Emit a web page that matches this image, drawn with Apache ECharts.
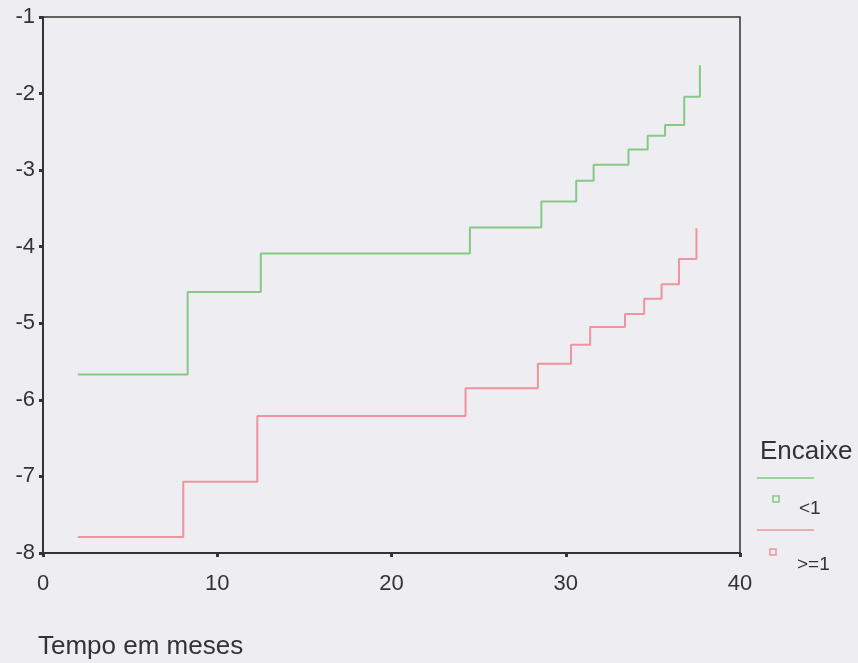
<!DOCTYPE html>
<html>
<head>
<meta charset="utf-8">
<script src="https://cdn.jsdelivr.net/npm/echarts@6/dist/echarts.min.js"></script>
<style>
html,body{margin:0;padding:0;background:#eeeef2;}
#c{width:858px;height:663px;}
</style>
</head>
<body>
<div id="c"></div>
<script>
// Data
var greenTimes  = [2.0, 8.3, 12.5, 24.5, 28.6, 30.6, 31.6, 33.6, 34.7, 35.7, 36.8, 37.7];
var greenValues = [-5.67, -4.59, -4.09, -3.75, -3.41, -3.14, -2.93, -2.73, -2.55, -2.41, -2.04, -1.63];
var redTimes    = [2.0, 8.05, 12.3, 24.25, 28.4, 30.3, 31.4, 33.4, 34.5, 35.5, 36.5, 37.5];
var redValues   = [-7.79, -7.07, -6.21, -5.85, -5.53, -5.28, -5.05, -4.88, -4.68, -4.49, -4.16, -3.76];
var xTicks = [0, 10, 20, 30, 40];
var yTicks = [-8, -7, -6, -5, -4, -3, -2, -1];
var seriesNames = ['<1', '>=1'];
var legendTitle = 'Encaixe';
var xTitle = 'Tempo em meses';

function pairs(xs, ys){ return xs.map(function(x,i){ return [x, ys[i]]; }); }

var GREEN = '#86c886', RED = '#f0939c', INK = '#333333';
var font = 'Liberation Sans, Arial, sans-serif';

var chart = echarts.init(document.getElementById('c'), null, {renderer:'canvas'});
chart.setOption({
  backgroundColor: '#eeeef2',
  animation: false,
  grid: {left: 43, right: 118, top: 17, bottom: 110, show: true, borderColor: INK, borderWidth: 1.5, backgroundColor: 'transparent'},
  xAxis: {
    type: 'value', min: xTicks[0], max: xTicks[xTicks.length-1], interval: 10,
    axisLine: {show: true, onZero: false, lineStyle: {color: INK, width: 2}},
    axisTick: {show: true, inside: false, length: 4, lineStyle: {color: INK, width: 3}},
    axisLabel: {color: INK, fontSize: 22, fontFamily: font, margin: 20},
    splitLine: {show: false}
  },
  yAxis: {
    type: 'value', min: yTicks[0], max: yTicks[yTicks.length-1], interval: 1,
    axisLine: {show: true, onZero: false, lineStyle: {color: INK, width: 2}},
    axisTick: {show: true, inside: false, length: 4, lineStyle: {color: INK, width: 3}},
    axisLabel: {color: INK, fontSize: 22, fontFamily: font, margin: 8},
    splitLine: {show: false}
  },
  series: [
    {name: seriesNames[0], type: 'line', step: 'end', data: pairs(greenTimes, greenValues),
     showSymbol: false, lineStyle: {color: GREEN, width: 2}, itemStyle: {color: GREEN}},
    {name: seriesNames[1], type: 'line', step: 'end', data: pairs(redTimes, redValues),
     showSymbol: false, lineStyle: {color: RED, width: 2}, itemStyle: {color: RED}}
  ],
  graphic: [
    {type: 'text', style: {x: 38, y: 647, text: xTitle, fill: INK, font: '26px ' + font, verticalAlign: 'middle'}},
    {type: 'text', style: {x: 760, y: 452, text: legendTitle, fill: INK, font: '26px ' + font, verticalAlign: 'middle'}},
    {type: 'line', shape: {x1: 757, y1: 478, x2: 814, y2: 478}, style: {stroke: GREEN, lineWidth: 1.5}},
    {type: 'rect', shape: {x: 773, y: 496, width: 6, height: 6}, style: {stroke: GREEN, fill: 'none', lineWidth: 1.5}},
    {type: 'text', style: {x: 799, y: 509, text: seriesNames[0], fill: INK, font: '19px ' + font, verticalAlign: 'middle'}},
    {type: 'line', shape: {x1: 757, y1: 530, x2: 814, y2: 530}, style: {stroke: RED, lineWidth: 1.5}},
    {type: 'rect', shape: {x: 770, y: 549, width: 6, height: 6}, style: {stroke: RED, fill: 'none', lineWidth: 1.5}},
    {type: 'text', style: {x: 797, y: 565, text: seriesNames[1], fill: INK, font: '19px ' + font, verticalAlign: 'middle'}}
  ]
});
</script>
</body>
</html>
